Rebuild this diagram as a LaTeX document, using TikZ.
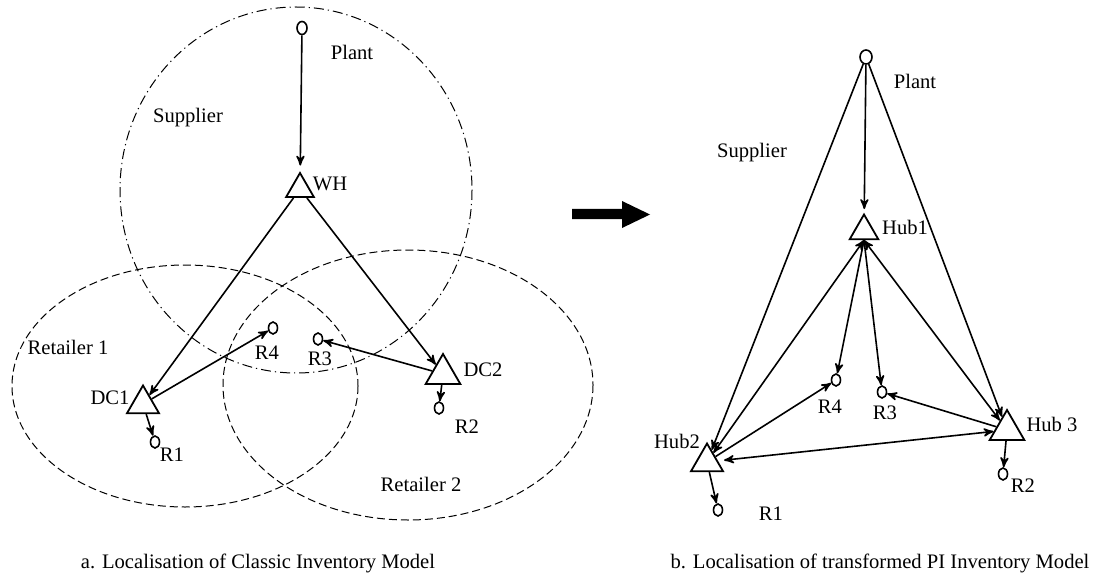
\documentclass[tikz,border=0pt]{standalone}
\usepackage{fontspec}
\setmainfont{Liberation Serif}
\usepackage{tikz}
\usetikzlibrary{arrows,shapes.geometric}

\begin{document}
\begin{tikzpicture}[x=0.5pt,y=-0.5pt,>=stealth',thick]
    \tikzstyle{site}=[ellipse, draw, line width=0.8pt, minimum width=4.5pt, minimum height=6pt, inner sep=0pt]
    \tikzstyle{depot}=[regular polygon, regular polygon sides=3, draw, line width=0.9pt, minimum size=18.5pt, inner sep=0pt]
    \tikzstyle{lbl}=[inner sep=0pt, font=\fontsize{10.3}{12}\selectfont]
    \tikzstyle{flow}=[->, line width=0.8pt]
    \tikzstyle{region}=[line width=0.5pt, dash pattern=on 4pt off 2pt]

    \useasboundingbox (0,0) rectangle (1101,577);

    % a. classic model
    \draw[line width=0.5pt, dash pattern=on 5pt off 2pt on 0.6pt off 2pt] (296,190) ellipse [x radius=176, y radius=183];
    \draw[region] (185,386) ellipse [x radius=173, y radius=121];
    \draw[region] (408,385) ellipse [x radius=185, y radius=135];

    \node[site, minimum width=5pt, minimum height=6.5pt] (plantA) at (302,28) {};
    \node[depot, minimum size=16pt] (whA) at (300,189) {};
    \node[depot] (dc1) at (143,404) {};
    \node[depot, minimum size=20pt] (dc2) at (443,374) {};
    \node[site] (r1A) at (155,442) {};
    \node[site] (r2A) at (439,408) {};
    \node[site] (r3A) at (318,339) {};
    \node[site] (r4A) at (273,328) {};

    \node[lbl] (plantAL) at (352,52) {Plant};
    \node[lbl] (supA) at (188,118) {Supplier};
    \node[lbl] (whAL) at (330,184) {WH};
    \node[lbl] (dc1L) at (110,398) {DC1};
    \node[lbl] (dc2L) at (483,370) {DC2};
    \node[lbl] (r1AL) at (172,455) {R1};
    \node[lbl] (r2AL) at (467,427) {R2};
    \node[lbl] (r3AL) at (320,359) {R3};
    \node[lbl] (r4AL) at (267,353) {R4};
    \node[lbl] (ret1) at (68,347) {Retailer 1};
    \node[lbl] (ret2) at (421,484) {Retailer 2};
    \node[lbl] (capA) at (258,563) {a. Localisation of Classic Inventory Model};

    \draw[flow, shorten >=3pt] (plantA) -- (whA);
    \draw[flow] (whA) -- (dc1);
    \draw[flow] (whA) -- (dc2);
    \draw[flow] (dc1) -- (r1A);
    \draw[flow] (dc1) -- (r4A);
    \draw[flow] (dc2) -- (r2A);
    \draw[flow] (dc2) -- (r3A);

    % transformation
    \fill (572,209) -- (622,209) -- (622,201) -- (650,214.5) -- (622,228) -- (622,219) -- (572,219) -- cycle;

    % b. PI model
    \node[site, minimum width=6pt, minimum height=7pt] (plantB) at (866,57) {};
    \node[depot, minimum size=16.5pt] (hub1) at (864,231) {};
    \node[depot] (hub2) at (707,462) {};
    \node[depot, minimum size=20pt] (hub3) at (1007,430) {};
    \node[site] (r1B) at (718,510) {};
    \node[site] (r2B) at (1003,474) {};
    \node[site] (r3B) at (882,392) {};
    \node[site] (r4B) at (836,380) {};

    \node[lbl] (plantBL) at (915,81) {Plant};
    \node[lbl] (supB) at (752,153) {Supplier};
    \node[lbl] (hub1L) at (905,227) {Hub1};
    \node[lbl] (hub2L) at (677,441) {Hub2};
    \node[lbl] (hub3L) at (1052,424) {Hub 3};
    \node[lbl] (r1BL) at (771,514) {R1};
    \node[lbl] (r2BL) at (1023,486) {R2};
    \node[lbl] (r3BL) at (885,413) {R3};
    \node[lbl] (r4BL) at (830,407) {R4};
    \node[lbl] (capB) at (880,563) {b. Localisation of transformed PI Inventory Model};

    \draw[flow, shorten >=2pt] (plantB) -- (hub1);
    \draw[flow] (plantB) -- (hub2);
    \draw[flow] (plantB) -- (hub3);
    \draw[flow, <->] (hub1.side 2) -- (hub2);
    \draw[flow, <->] (hub1.side 2) -- (hub3);
    \draw[flow] (hub1.side 2) -- (r4B);
    \draw[flow] (hub1.side 2) -- (r3B);
    \draw[flow] (hub2) -- (r4B);
    \draw[flow, <->, shorten <=3pt] (hub2) -- (hub3);
    \draw[flow] (hub3) -- (r3B);
    \draw[flow] (hub2) -- (r1B);
    \draw[flow] (hub3) -- (r2B);

\end{tikzpicture}
\end{document}
